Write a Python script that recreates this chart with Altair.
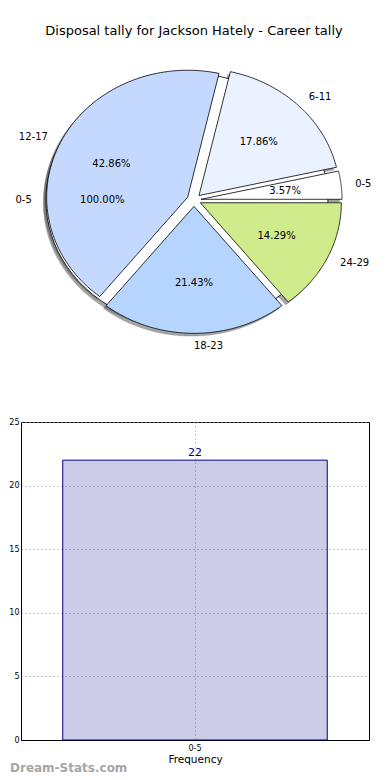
import altair as alt
import pandas as pd

# ---------------- data ----------------
title_text = "Disposal tally for Jackson Hately - Career tally"

slice_bins = ["0-5", "6-11", "12-17", "18-23", "24-29"]
slice_counts = [1, 5, 12, 6, 4]
slice_colors = ["#ffffff", "#eaf2ff", "#c5d9ff", "#b5d5ff", "#d0eb8b"]

total_bins = ["0-5"]
total_counts = [22]
total_colors = ["#ffffff"]

bar_bins = ["0-5"]
bar_values = [22]
y_ticks = [0, 5, 10, 15, 20, 25]

watermark_text = ["Dream-Stats.com"]

# ---------------- geometry / style ----------------
FONT = "DejaVu Sans"
W1, H1 = 348, 397        # pie panel
W2, H2 = 348, 318        # bar panel
CX, CY = 173, 191        # pie centre (panel px)
RX, RY = 141, 127        # pie radii (elliptical, as in the reference)
EXPLODE = 0.05
SHX, SHY = -2.7, 2.7     # shadow offset
N = 90                   # arc resolution

xs = alt.Scale(domain=[0, W1], nice=False, zero=False)
ys = alt.Scale(domain=[0, H1], nice=False, zero=False, reverse=True)


def make_df(bins, counts, colors):
    return pd.DataFrame({"bin": bins, "count": counts, "color": colors,
                         "idx": list(range(len(bins)))})


def geom(df):
    return (
        alt.Chart(df)
        .transform_joinaggregate(total="sum(count)")
        .transform_window(cum="sum(count)", sort=[alt.SortField("idx")], frame=[None, 0])
        .transform_calculate(
            a1="2*PI*(datum.cum - datum.count)/datum.total",
            a2="2*PI*datum.cum/datum.total",
            am="(datum.a1 + datum.a2)/2",
            ox=f"{CX} + {EXPLODE * RX}*cos(datum.am)",
            oy=f"{CY} - {EXPLODE * RY}*sin(datum.am)",
        )
    )


def wedges(df, shadow=False):
    dx, dy = (SHX, SHY) if shadow else (0, 0)
    c = (
        geom(df)
        .transform_calculate(k=f"sequence(-1, {N + 2})")
        .transform_flatten(["k"])
        .transform_calculate(
            full="datum.a2 - datum.a1 > 6.28",
            kk=f"min(max(datum.k, 0), {N})",
            ang=f"datum.a1 + (datum.a2 - datum.a1)*datum.kk/{N}",
            apex=f"(datum.k < 0 || datum.k > {N}) && !datum.full",
            px=f"(datum.apex ? datum.ox : datum.ox + {RX}*cos(datum.ang)) + {dx}",
            py=f"(datum.apex ? datum.oy : datum.oy - {RY}*sin(datum.ang)) + {dy}",
        )
    )
    enc = dict(
        x=alt.X("px:Q", scale=xs, axis=None),
        y=alt.Y("py:Q", scale=ys, axis=None),
        order=alt.Order("k:Q"),
        detail=alt.Detail("bin:N"),
    )
    if shadow:
        return c.mark_line(fill="#4d4d4d", fillOpacity=0.5, stroke="#4d4d4d",
                           strokeOpacity=0.5, strokeWidth=0.5).encode(**enc)
    return c.mark_line(stroke="black", strokeWidth=0.8).encode(
        fill=alt.Fill("color:N", scale=None, legend=None), **enc)


def pct_text(df):
    return (
        geom(df)
        .transform_calculate(
            tx=f"datum.ox + {0.6 * RX}*cos(datum.am)",
            ty=f"datum.oy - {0.6 * RY}*sin(datum.am)",
            pct="format(100*datum.count/datum.total, '.2f') + '%'",
        )
        .mark_text(font=FONT, fontSize=10, color="black")
        .encode(x=alt.X("tx:Q", scale=xs, axis=None),
                y=alt.Y("ty:Q", scale=ys, axis=None),
                text="pct:N")
    )


def name_text(df):
    base = geom(df).transform_calculate(
        lx=f"datum.ox + {1.1 * RX}*cos(datum.am)",
        ly=f"datum.oy - {1.1 * RY}*sin(datum.am)",
        side="cos(datum.am) > -0.001 ? 'left' : 'right'",
    )
    out = []
    for side in ["left", "right"]:
        out.append(
            base.transform_filter(f"datum.side == '{side}'")
            .mark_text(font=FONT, fontSize=10, color="black", align=side)
            .encode(x=alt.X("lx:Q", scale=xs, axis=None),
                    y=alt.Y("ly:Q", scale=ys, axis=None),
                    text="bin:N")
        )
    return out


slices = make_df(slice_bins, slice_counts, slice_colors)
whole = make_df(total_bins, total_counts, total_colors)

title_layer = (
    alt.Chart(pd.DataFrame({"t": [title_text]}))
    .mark_text(font=FONT, fontSize=13, color="black")
    .encode(x=alt.value(CX), y=alt.value(22), text="t:N")
)

pie = alt.layer(
    wedges(whole, shadow=True),
    wedges(slices, shadow=True),
    wedges(whole),
    wedges(slices),
    *name_text(whole),
    pct_text(whole),
    *name_text(slices),
    pct_text(slices),
    title_layer,
).properties(width=W1, height=H1, view=alt.ViewBackground(stroke="transparent"))

# ---------------- bar chart ----------------
bar_df = pd.DataFrame({"bin": bar_bins, "value": bar_values})
bbase = alt.Chart(bar_df).encode(
    x=alt.X("bin:N", scale=alt.Scale(paddingInner=0, paddingOuter=0),
            axis=alt.Axis(title="Frequency", labelAngle=0, ticks=False, tickSize=0,
                          labelFontSize=8, labelPadding=4, titleFontSize=10.5,
                          titleFontWeight="normal", titlePadding=2,
                          grid=True, gridDash=[1, 3], gridColor="#999999",
                          bandPosition=0.5)),
    y=alt.Y("value:Q", scale=alt.Scale(domain=[0, 25], nice=False),
            axis=alt.Axis(values=y_ticks, title=None, ticks=False, tickSize=0,
                          labelFontSize=8, labelPadding=2,
                          grid=True, gridDash=[1, 3], gridColor="#999999")),
)
bars = bbase.mark_bar(fill="#000080", fillOpacity=0.2, stroke="#000080",
                      strokeWidth=1, width=alt.RelativeBandSize(0.76))
bar_labels = bbase.mark_text(font=FONT, fontSize=11, color="#000080",
                             baseline="bottom", dy=-2).encode(text="value:Q")
watermark = (
    alt.Chart(pd.DataFrame({"w": watermark_text}))
    .mark_text(font=FONT, fontSize=12, fontWeight="bold", color="#a6a6a6",
               align="left", baseline="top")
    .encode(x=alt.value(-11), y=alt.value(H2 + 23), text="w:N")
)
bar = alt.layer(bars, bar_labels, watermark).properties(width=W2, height=H2)

chart = (
    alt.vconcat(pie, bar, spacing=10)
    .properties(padding=0)
    .configure(font=FONT)
    .configure_view(stroke="black", strokeWidth=1)
    .configure_axis(labelFont=FONT, titleFont=FONT, labelColor="black",
                    titleColor="black", domainColor="black")
)

chart.save("out.html", embed_options={"renderer": "svg", "actions": False})
